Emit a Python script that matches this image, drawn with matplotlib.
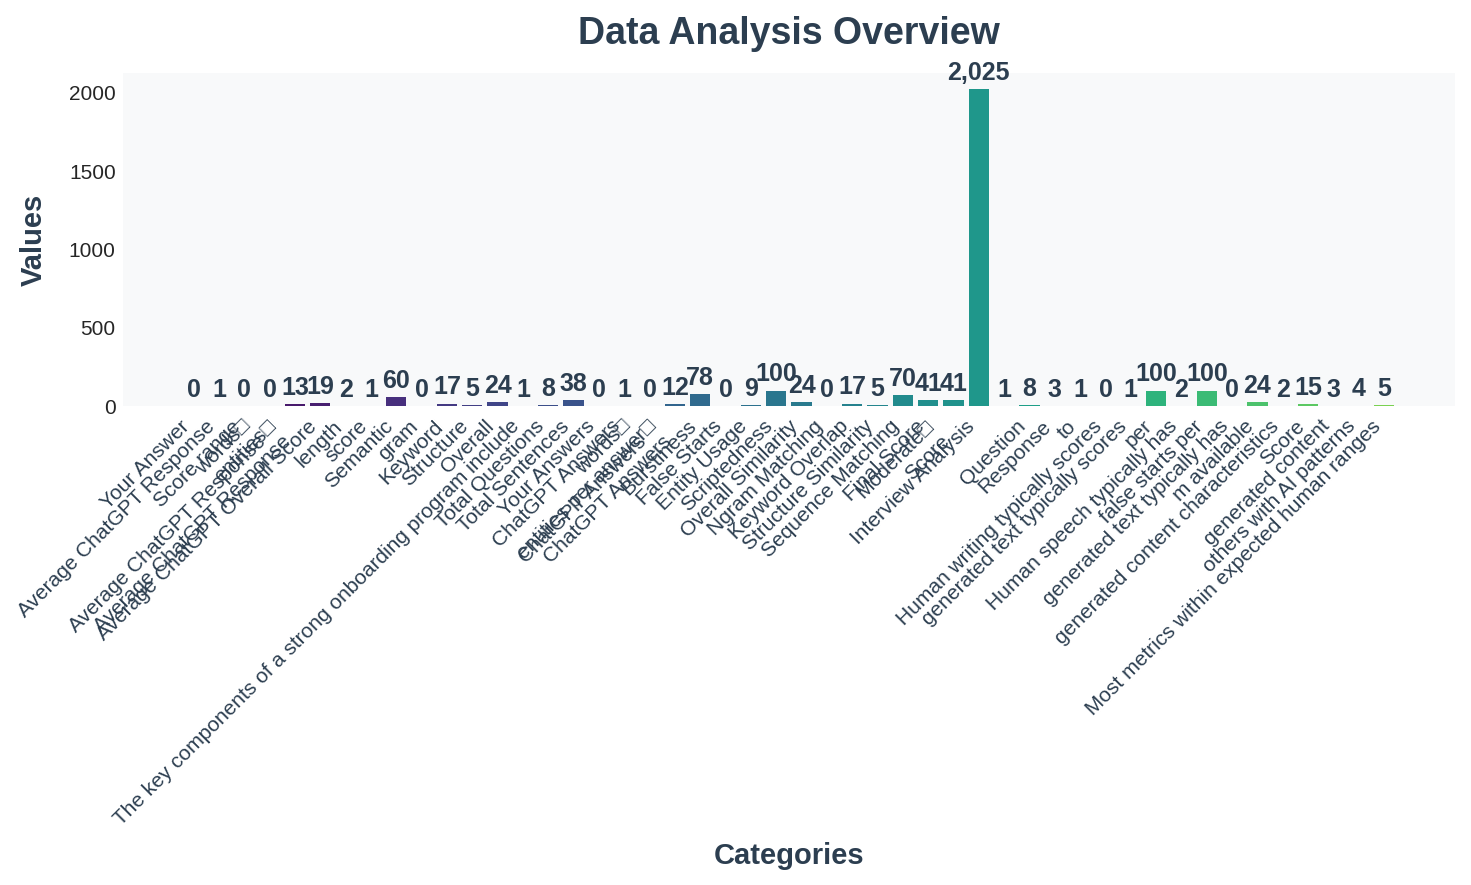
import numpy as np
import matplotlib.pyplot as plt

plt.rcParams['font.family'] = ['Liberation Sans', 'DejaVu Sans']

categories = [
    "Your Answer", "Average ChatGPT Response", "Score range",
    "words\u25a1\nAverage ChatGPT Response", "entities\u25a1\nAverage ChatGPT Response",
    "Average ChatGPT Overall Score", "length", "score", "Semantic", "gram",
    "Keyword", "Structure", "Overall",
    "The key components of a strong onboarding program include",
    "Total Questions", "Total Sentences", "Your Answers", "ChatGPT Answers",
    "words\u25a1\nChatGPT Answers", "entities per answer\u25a1\nChatGPT Answers",
    "Burstiness", "False Starts", "Entity Usage", "Scriptedness",
    "Overall Similarity", "Ngram Matching", "Keyword Overlap",
    "Structure Similarity", "Sequence Matching", "Final Score",
    "Moderate\u25a1\nScore", "Interview Analysis", "", "Question", "Response", "to",
    "Human writing typically scores", "generated text typically scores", "per",
    "Human speech typically has", "false starts per", "generated text typically has",
    "m available", "generated content characteristics", "Score",
    "generated content", "others with AI patterns",
    "Most metrics within expected human ranges",
]
values = [0, 1, 0, 0, 13, 19, 2, 1, 60, 0,
          17, 5, 24, 1, 8, 38, 0, 1, 0, 12,
          78, 0, 9, 100, 24, 0, 17, 5, 70, 41,
          41, 2025, 1, 8, 3, 1, 0, 1, 100, 2,
          100, 0, 24, 2, 15, 3, 4, 5]

dark = '#2c3e50'
x = np.arange(len(values))
colors = plt.cm.viridis(np.linspace(0, 0.8, len(values)))

fig, ax = plt.subplots(figsize=(1471 / 150, 885 / 150), dpi=150)
fig.subplots_adjust(left=0.0836, right=0.989, top=0.9175, bottom=0.541)
ax.set_facecolor('#f8f9fa')

bars = ax.bar(x, values, color=colors, width=0.8)
for b, v in zip(bars, values):
    ax.annotate(f"{v:,}", (b.get_x() + b.get_width() / 2, b.get_height()),
                xytext=(0, 2), textcoords='offset points', ha='center', va='bottom',
                fontsize=12, fontweight='bold', color=dark)

ax.set_xticks(x)
ax.set_xticklabels(categories, rotation=45, ha='right', fontsize=10, color=dark)
ax.tick_params(axis='y', labelsize=10, colors='#262626', length=0)
ax.tick_params(axis='x', length=0, pad=5)
for s in ax.spines.values():
    s.set_visible(False)

ax.set_title("Data Analysis Overview", fontsize=18, fontweight='bold', color=dark, pad=14)
ax.set_xlabel("Categories", fontsize=14, fontweight='bold', color=dark, labelpad=6)
ax.set_ylabel("Values", fontsize=14, fontweight='bold', color=dark, labelpad=10)

plt.savefig("out.png", dpi=150)
